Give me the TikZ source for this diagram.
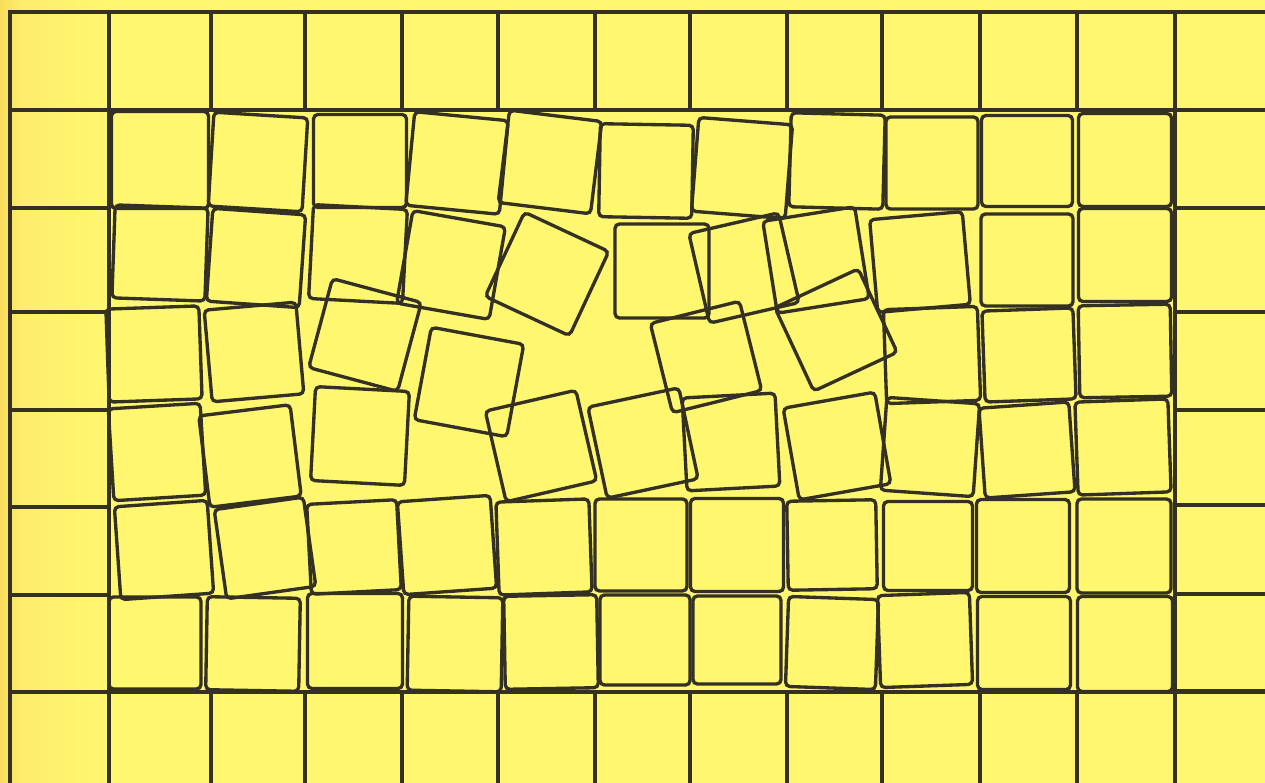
\documentclass[tikz,border=0pt]{standalone}
\definecolor{paper}{RGB}{255,247,112}
\definecolor{paperedge}{RGB}{250,220,92}
\definecolor{papermid}{RGB}{253,238,108}
\definecolor{ink}{RGB}{52,48,34}
\tikzset{
  frame/.style={draw=ink, line width=1.9pt},
  tile/.style={draw=ink, line width=1.9pt, rectangle, rounded corners=2.5pt, inner sep=0pt, outer sep=0pt},
}
\newcommand\mytile[5]{\node[tile, minimum size=#4*0.02cm, rotate=#3] (#5) at (#1,#2) {};}
\begin{document}
\begin{tikzpicture}[x=0.02cm,y=-0.02cm]
\useasboundingbox (0,0) rectangle (1265,783);
\clip (0,0) rectangle (1265,783);
\fill[paper] (0,0) rectangle (1265,783);
\shade[left color=paperedge, right color=papermid] (0,0) rectangle (22,783);
\shade[left color=papermid, right color=paper] (22,0) rectangle (110,783);
% outer ring of unmoved squares
\foreach \a/\b in {10/109,109/211,211/305,305/402,402/498,498/595,595/690,690/787,787/882,882/980,980/1077,1077/1175,1175/1272} {
  \draw[frame] (\a,12) rectangle (\b,110);
  \draw[frame] (\a,692) rectangle (\b,790);
}
\foreach \a/\b in {110/208,208/312,312/410,410/507,507/595,595/692} \draw[frame] (10,\a) rectangle (109,\b);
\foreach \a/\b in {110/208,208/312,312/410,410/505,505/594,594/691} \draw[frame] (1175,\a) rectangle (1272,\b);
% row 1
\mytile{160}{160}{0}{97}{r1c1}
\mytile{258}{162}{-3.5}{94}{r1c2}
\mytile{360}{161}{0}{93}{r1c3}
\mytile{457}{163}{-5.5}{94}{r1c4}
\mytile{550}{162}{-7}{93}{r1c5}
\mytile{646}{171}{-1}{93}{r1c6}
\mytile{742}{168}{-4.5}{94}{r1c7}
\mytile{837}{161}{-1.5}{94}{r1c8}
\mytile{932}{163}{0}{92}{r1c9}
\mytile{1027}{161}{0}{91}{r1c10}
\mytile{1125}{160}{0}{93}{r1c11}
% row 2
\mytile{160}{253}{-2}{93}{r2c1}
\mytile{256}{258}{-4}{93}{r2c2}
\mytile{358}{254}{-3}{94}{r2c3}
\mytile{451}{265}{-10}{94}{r2c4}
\mytile{547}{274}{-25}{93}{r2c5}
\mytile{662}{271}{0}{94}{r2c6}
\mytile{744}{268}{13}{92}{r2c7}
\mytile{816}{260}{9}{93}{r2c8}
\mytile{920}{262}{5}{93}{r2c9}
\mytile{1027}{260}{0}{92}{r2c10}
\mytile{1125}{255}{0}{93}{r2c11}
% row 3
\mytile{154}{354}{2}{93}{r3c1}
\mytile{254}{352}{5}{92}{r3c2}
\mytile{365}{335}{-15}{92}{r3c3}
\mytile{469}{382}{-10.5}{94}{r3c4}
\mytile{706}{357}{14}{92}{r3c6}
\mytile{836}{330}{25}{92}{r3c8}
\mytile{932}{355}{2}{94}{r3c9}
\mytile{1029}{355}{2}{91}{r3c10}
\mytile{1125}{351}{1}{92}{r3c11}
% row 4
\mytile{157}{452}{3.5}{92}{r4c1}
\mytile{250}{456}{7}{92}{r4c2}
\mytile{360}{436}{-3}{94}{r4c3}
\mytile{541}{446}{13}{93}{r4c5}
\mytile{643}{443}{12}{93}{r4c6}
\mytile{731}{442}{3}{93}{r4c7}
\mytile{837}{446}{10}{93}{r4c8}
\mytile{930}{447}{-4}{93}{r4c9}
\mytile{1027}{450}{4}{90}{r4c10}
\mytile{1123}{447}{2}{93}{r4c11}
% row 5
\mytile{164}{550}{4}{93}{r5c1}
\mytile{265}{548}{8}{90}{r5c2}
\mytile{354}{547}{3}{90}{r5c3}
\mytile{447}{545}{4}{93}{r5c4}
\mytile{544}{547}{2}{93}{r5c5}
\mytile{641}{545}{0}{92}{r5c6}
\mytile{737}{545}{0}{93}{r5c7}
\mytile{832}{545}{1}{89}{r5c8}
\mytile{928}{546}{0}{89}{r5c9}
\mytile{1023}{546}{0}{93}{r5c10}
\mytile{1124}{546}{0}{94}{r5c11}
% row 6
\mytile{155}{643}{0}{92}{r6c1}
\mytile{253}{644}{-1}{93}{r6c2}
\mytile{355}{641}{0}{95}{r6c3}
\mytile{455}{644}{-1}{94}{r6c4}
\mytile{551}{642}{1}{93}{r6c5}
\mytile{645}{640}{0}{90}{r6c6}
\mytile{737}{640}{0}{88}{r6c7}
\mytile{832}{643}{-2}{90}{r6c8}
\mytile{925}{640}{2}{92}{r6c9}
\mytile{1024}{643}{0}{93}{r6c10}
\mytile{1125}{644}{0}{95}{r6c11}
\end{tikzpicture}
\end{document}
